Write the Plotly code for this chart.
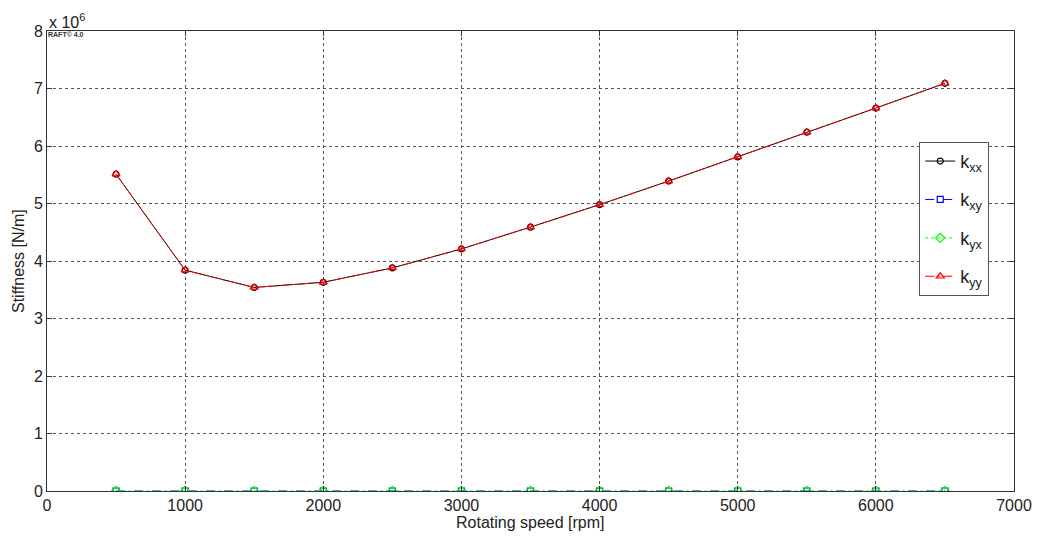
import plotly.graph_objects as go

speed = [500, 1000, 1500, 2000, 2500, 3000, 3500, 4000, 4500, 5000, 5500, 6000, 6500]
kxx = [5.51e6, 3.84e6, 3.54e6, 3.63e6, 3.88e6, 4.21e6, 4.59e6, 4.98e6, 5.39e6, 5.81e6, 6.24e6, 6.66e6, 7.09e6]
kxy = [0, 0, 0, 0, 0, 0, 0, 0, 0, 0, 0, 0, 0]
kyx = [0, 0, 0, 0, 0, 0, 0, 0, 0, 0, 0, 0, 0]
kyy = [5.51e6, 3.84e6, 3.54e6, 3.63e6, 3.88e6, 4.21e6, 4.59e6, 4.98e6, 5.39e6, 5.81e6, 6.24e6, 6.66e6, 7.09e6]
x_ticks = [0, 1000, 2000, 3000, 4000, 5000, 6000, 7000]
y_ticks = [0, 1e6, 2e6, 3e6, 4e6, 5e6, 6e6, 7e6, 8e6]
y_tick_text = ["0", "1", "2", "3", "4", "5", "6", "7", "8"]

FONT = "Liberation Sans, Arial, sans-serif"

fig = go.Figure()
series = [
    ("k<sub>xx</sub>", kxx, "black", "solid", "circle-open", 6),
    ("k<sub>xy</sub>", kxy, "blue", "dash", "square-open", 6),
    ("k<sub>yx</sub>", kyx, "#00ff00", "dot", "diamond-open", 7),
    ("k<sub>yy</sub>", kyy, "red", "dashdot", "triangle-up-open", 7),
]
for i, (name, vals, col, dash, sym, msize) in enumerate(series):
    fig.add_trace(go.Scatter(
        x=speed, y=vals, name=name, mode="lines+markers", legendgroup=f"g{i}",
        line=dict(color=col, width=1, dash=dash),
        marker=dict(symbol=sym, size=msize, color=col, line=dict(width=1.2, color=col)),
    ))

axis_common = dict(
    showline=True, linecolor="#333333", linewidth=1, mirror="ticks",
    ticks="inside", ticklen=5, tickcolor="#333333", automargin=False,
    showgrid=True, gridcolor="#555555", griddash="dot", gridwidth=1,
    zeroline=False, tickfont=dict(family=FONT, size=16, color="#222222"),
)
fig.update_xaxes(range=[0, 7000], tickvals=x_ticks, **axis_common)
fig.update_yaxes(range=[0, 8e6], tickvals=y_ticks, ticktext=y_tick_text, **axis_common)

title_font = dict(family=FONT, size=16, color="#222222")
fig.add_annotation(text="Rotating speed [rpm]", xref="paper", yref="paper", x=0.5, y=0,
                   xanchor="center", yanchor="middle", yshift=-31, showarrow=False, font=title_font)
fig.add_annotation(text="Stiffness [N/m]", xref="paper", yref="paper", x=0, y=0.5, textangle=-90,
                   xanchor="center", yanchor="middle", xshift=-29, showarrow=False, font=title_font)
fig.add_annotation(text="x 10<sup>6</sup>", xref="paper", yref="paper", x=0, y=1,
                   xanchor="left", yanchor="bottom", showarrow=False, yshift=-2,
                   font=dict(family=FONT, size=16, color="#222222"))
fig.add_annotation(text="<b>RAFT© 4.0</b>", xref="paper", yref="paper", x=0, y=1,
                   xanchor="left", yanchor="top", showarrow=False, xshift=-1, yshift=2,
                   font=dict(family=FONT, size=7, color="#333333"))

fig.update_layout(
    width=1040, height=536,
    margin=dict(l=47, r=26, t=31, b=45),
    paper_bgcolor="white", plot_bgcolor="white",
    font=dict(family=FONT, size=16, color="#222222"),
    legend=dict(x=0.902, y=0.759, xanchor="left", yanchor="top",
                bordercolor="#555555", borderwidth=1, bgcolor="white",
                font=dict(family=FONT, size=18, color="#222222"),
                itemwidth=30, tracegroupgap=12),
    showlegend=True,
)

fig.write_html("out.html")
